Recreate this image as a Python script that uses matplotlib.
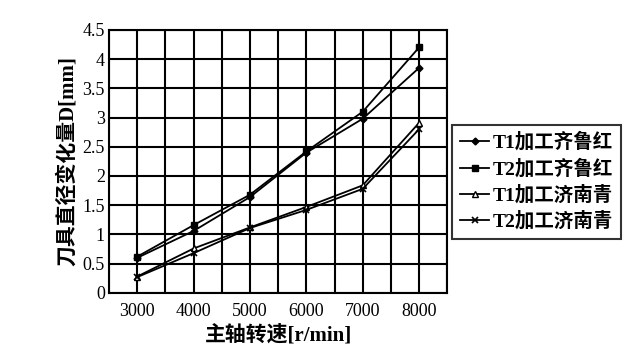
import matplotlib
matplotlib.use('Agg')
import matplotlib.pyplot as plt

plt.rcParams['font.family'] = ['Liberation Serif', 'Noto Sans CJK SC']

speed = [3000, 4000, 5000, 6000, 7000, 8000]
t1_qlh = [0.60, 1.06, 1.64, 2.40, 2.98, 3.85]
t2_qlh = [0.62, 1.16, 1.68, 2.42, 3.10, 4.20]
t1_jnq = [0.28, 0.76, 1.12, 1.47, 1.84, 2.91]
t2_jnq = [0.27, 0.68, 1.11, 1.42, 1.78, 2.80]
labels = ['T1加工齐鲁红', 'T2加工齐鲁红', 'T1加工济南青', 'T2加工济南青']

fig = plt.figure(figsize=(6.38, 3.52), dpi=100)
ax = fig.add_axes([0.171, 0.168, 0.530, 0.747])

ax.plot(speed, t1_qlh, '-', color='k', lw=1.3, marker='D', ms=3.5, label=labels[0])
ax.plot(speed, t2_qlh, '-', color='k', lw=1.3, marker='s', ms=5, label=labels[1])
ax.plot(speed, t1_jnq, '-', color='k', lw=1.3, marker='^', ms=5, mfc='white', label=labels[2])
ax.plot(speed, t2_jnq, '-', color='k', lw=1.3, marker='x', ms=4, mew=1.2, label=labels[3])

ax.set_xlim(2500, 8500)
ax.set_ylim(0, 4.5)
ax.set_xticks(speed)
ax.set_xticks(range(2500, 8501, 500), minor=True)
ax.set_yticks([i * 0.5 for i in range(10)])
ax.set_yticklabels(['0', '0.5', '1', '1.5', '2', '2.5', '3', '3.5', '4', '4.5'])
ax.grid(True, which='both', color='k', lw=1.5)
ax.tick_params(which='both', length=0, labelsize=13)
ax.tick_params(axis='x', pad=7)
ax.tick_params(axis='y', pad=3)
for s in ax.spines.values():
    s.set_linewidth(1.5)

ax.set_xlabel('主轴转速[r/min]', fontsize=15, fontweight='bold', labelpad=4)
ax.set_ylabel('刀具直径变化量D[mm]', fontsize=15, fontweight='bold', labelpad=3)

leg = ax.legend(loc='upper left', bbox_to_anchor=(1.015, 0.64), frameon=True,
                fancybox=False, edgecolor='k', handlelength=1.5,
                handletextpad=0.2, borderpad=0.4, labelspacing=0.35,
                borderaxespad=0, prop={'weight': 'bold', 'size': 14})
leg.get_frame().set_linewidth(1.5)

fig.savefig('out.png', dpi=100)
